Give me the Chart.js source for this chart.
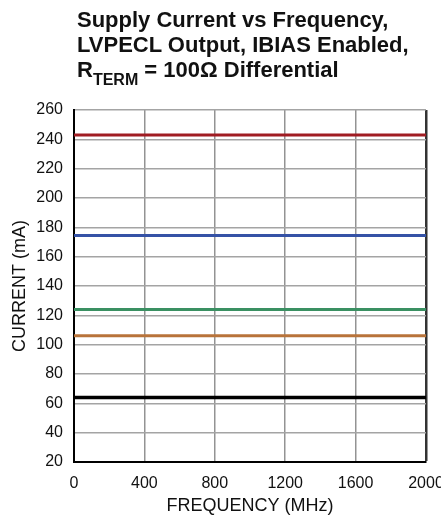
<!DOCTYPE html>
<html>
<head>
<meta charset="utf-8">
<script src="https://cdn.jsdelivr.net/npm/chart.js@4/dist/chart.umd.min.js"></script>
<style>
  html, body { margin: 0; padding: 0; background: #fff; }
  #wrap { position: relative; width: 441px; height: 517px; }
  #title {
    position: absolute; left: 77px; top: 7px;
    font-family: "Liberation Sans", Arial, sans-serif; font-weight: bold;
    font-size: 22px; line-height: 25px; color: #111; white-space: nowrap;
  }
  #title .sub { font-size: 16px; position: relative; top: 8px; }
  canvas { position: absolute; left: 0; top: 0; }
</style>
</head>
<body>
<div id="wrap">
  <canvas id="c" width="441" height="517"></canvas>
  <div id="title">Supply Current vs Frequency,<br>LVPECL Output, IBIAS Enabled,<br>R<span class="sub">TERM</span> = 100Ω Differential</div>
</div>
<script>
// ---- data ----
const frequencies = [0, 400, 800, 1200, 1600, 2000];          // MHz
const currentRed    = [243, 243, 243, 243, 243, 243];          // mA
const currentBlue   = [174.5, 174.5, 174.5, 174.5, 174.5, 174.5];
const currentGreen  = [124, 124, 124, 124, 124, 124];
const currentOrange = [106, 106, 106, 106, 106, 106];
const currentBlack  = [64, 64, 64, 64, 64, 64];
const xTicks = [0, 400, 800, 1200, 1600, 2000];
const yTicks = [20, 40, 60, 80, 100, 120, 140, 160, 180, 200, 220, 240, 260];

const seriesList = [
  { values: currentRed,    color: '#a01c22', width: 3 },
  { values: currentBlue,   color: '#3552a6', width: 3 },
  { values: currentGreen,  color: '#3a9062', width: 3 },
  { values: currentOrange, color: '#b8733a', width: 3 },
  { values: currentBlack,  color: '#000000', width: 3.5 }
];

const datasets = seriesList.map(s => ({
  data: frequencies.map((f, i) => ({ x: f, y: s.values[i] })),
  borderColor: s.color,
  borderWidth: s.width,
  pointRadius: 0,
  fill: false,
  tension: 0
}));

const tickFont = { family: '"Liberation Sans", Arial, sans-serif', size: 16 };

new Chart(document.getElementById('c'), {
  type: 'line',
  data: { datasets },
  options: {
    responsive: false,
    animation: false,
    events: [],
    layout: { padding: { top: 110, right: 15, bottom: 0, left: 0 } },
    plugins: { legend: { display: false }, tooltip: { enabled: false }, title: { display: false } },
    scales: {
      x: {
        type: 'linear', min: 0, max: 2000,
        afterBuildTicks: sc => { sc.ticks = xTicks.map(v => ({ value: v })); },
        afterFit: sc => { sc.height = 55; sc.paddingRight = 0; sc.paddingLeft = 0; },
        ticks: {
          autoSkip: false, maxRotation: 0, padding: 12, color: '#111',
          font: tickFont,
          callback: v => String(v)
        },
        grid: {
          drawTicks: false,
          color: c => c.tick && c.tick.value === 2000 ? '#333333' : '#939393',
          lineWidth: c => c.tick && c.tick.value === 2000 ? 2.5 : 1.5
        },
        border: { display: true, color: '#000', width: 2 },
        title: {
          display: true, text: 'FREQUENCY (MHz)', color: '#111',
          font: { family: '"Liberation Sans Narrow", "Liberation Sans", sans-serif', size: 18 },
          padding: { top: 0, bottom: 0 }
        }
      },
      y: {
        type: 'linear', min: 20, max: 260,
        afterBuildTicks: sc => { sc.ticks = yTicks.map(v => ({ value: v })); },
        afterFit: sc => { sc.width = 74; },
        ticks: {
          autoSkip: false, padding: 11, color: '#111',
          font: tickFont,
          callback: v => String(v)
        },
        grid: {
          drawTicks: false,
          color: '#a4a4a4',
          lineWidth: 1.5
        },
        border: { display: true, color: '#000', width: 2 },
        title: {
          display: true, text: 'CURRENT (mA)', color: '#111',
          font: { family: '"Liberation Sans Narrow", "Liberation Sans", sans-serif', size: 18 },
          padding: { top: 9, bottom: 0 }
        }
      }
    }
  }
});
</script>
</body>
</html>
